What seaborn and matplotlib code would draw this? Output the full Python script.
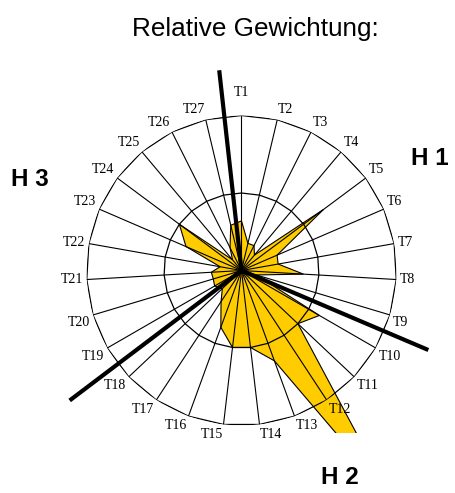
import numpy as np
import seaborn as sns
import matplotlib.pyplot as plt
from matplotlib.patches import Rectangle

# Kategorien und relative Gewichte (äusserer Ring = 1.0)
labels = ['T%d' % i for i in range(1, 28)]
werte = [0.32, 0.18, 0.18, 0.13, 0.66, 0.25, 0.24, 0.40, 0.10, 0.58,
         0.50, 1.75, 0.62, 0.50, 0.50, 0.39, 0.24, 0.17, 0.20, 0.19,
         0.195, 0.14, 0.39, 0.50, 0.09, 0.165, 0.30]
ringe = [0.5, 1.0]

# Hauptachsen H1..H3 (Winkel in Grad, Länge relativ)
h_winkel = [-6.35, 113.05, 232.9]
h_laenge = [1.30, 1.31, 1.39]
h_labels = ['H 1', 'H 2', 'H 3']

sns.set_theme(style='white')
plt.rcParams['font.family'] = ['Liberation Sans', 'DejaVu Sans']
plt.rcParams['text.color'] = 'black'

fig = plt.figure(figsize=(4.56, 4.93), dpi=100)
ax = fig.add_axes([0.1897, 0.1369, 0.6798, 0.6288], projection='polar')
ax.set_theta_zero_location('N')
ax.set_theta_direction(-1)
ax.set_ylim(0, 1)
ax.grid(False)
ax.set_xticks([])
ax.set_yticks([])
ax.spines['polar'].set_visible(False)
ax.set_facecolor('none')

n = len(labels)
winkel = np.arange(n) * 2 * np.pi / n
wk = np.append(winkel, winkel[0])

# Datenfläche (ragt über den Ring hinaus, wird am Diagrammrand abgeschnitten)
w = np.append(werte, werte[0])
poly = ax.fill(wk, w, color='#FFCC00', edgecolor='black', linewidth=0.8, zorder=2)[0]
clip = Rectangle((0, 0.1207), 1, 0.88, transform=fig.transFigure)
poly.set_clip_path(clip)

# Ringe als Polygone und Speichen
for r in ringe:
    ax.plot(wk, [r] * (n + 1), color='black', linewidth=0.9, zorder=3)
for th in winkel:
    ax.plot([th, th], [0, 1], color='black', linewidth=0.8, zorder=3)

# Hauptachsen
for a, l in zip(h_winkel, h_laenge):
    ax.plot([0, np.deg2rad(a)], [0, l], color='black', linewidth=3.0,
            solid_capstyle='butt', clip_on=False, zorder=4)

# Beschriftungen der Speichen
for i, lab in enumerate(labels):
    th = winkel[i]
    s, c = np.sin(th), np.cos(th)
    ha = 'center' if abs(s) < 0.1 else ('left' if s > 0 else 'right')
    va = 'bottom' if c > 0.3 else ('top' if c < -0.2 else 'center')
    pad = 12 if i == 0 else 2.5
    ax.annotate(lab, xy=(th, 1), xytext=(pad * s, pad * c),
                textcoords='offset points', ha=ha, va=va, color='black',
                fontsize=10, family=['Liberation Serif', 'DejaVu Serif'],
                annotation_clip=False)

fig.text(0.559, 0.927, 'Relative Gewichtung:', ha='center', va='baseline',
         fontsize=18.8, color='black')
h_pos = [(430 / 456, 1 - 158 / 493), (340 / 456, 1 - 478 / 493), (30 / 456, 1 - 180 / 493)]
for lab, (x, y) in zip(h_labels, h_pos):
    fig.text(x, y, lab, ha='center', va='center', fontsize=17.4,
             fontweight='bold', color='black')

fig.savefig('out.png', dpi=100)
